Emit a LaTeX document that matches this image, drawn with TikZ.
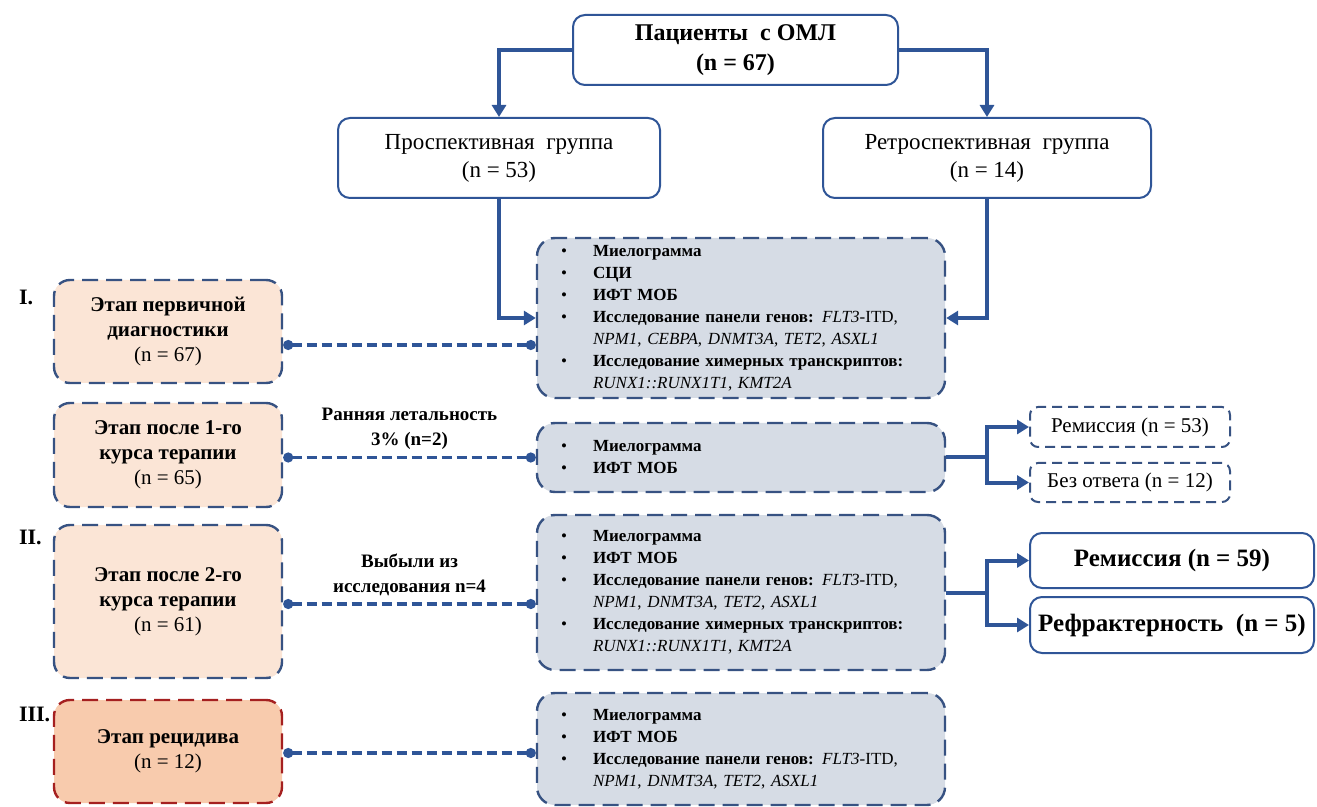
\documentclass[tikz,border=0pt]{standalone}
\usepackage{fontspec}
\setmainfont{Liberation Serif}
\usetikzlibrary{arrows.meta}
\definecolor{lineblue}{RGB}{47,85,151}
\definecolor{boxline}{RGB}{55,82,130}
\definecolor{testfill}{RGB}{214,220,229}
\definecolor{stagefill}{RGB}{251,229,214}
\definecolor{relapsefill}{RGB}{248,203,173}
\definecolor{relapseline}{RGB}{165,32,32}

\begin{document}
\begin{tikzpicture}[x=0.5pt,y=-0.5pt]
      \newcommand{\bul}[0]{\makebox[16pt][l]{\textbullet}}
      \newcommand{\cont}[0]{\hspace*{16pt}}
      \tikzstyle{mainbox} = [draw=lineblue,line width=1pt,rounded corners=6pt,fill=white,align=center,inner sep=0pt]
      \tikzstyle{stagebox} = [draw=boxline,line width=1.2pt,dash pattern=on 8pt off 4pt,rounded corners=8pt,fill=stagefill,align=center,minimum width=114pt,inner sep=0pt,font=\fontsize{10.5}{12.5}\selectfont]
      \tikzstyle{testbox} = [draw=boxline,line width=1.2pt,dash pattern=on 8pt off 4pt,rounded corners=9pt,fill=testfill,align=left,text width=180pt,inner xsep=12pt,inner ysep=0pt,font=\fontsize{8.5}{11}\selectfont]
      \tikzstyle{outbox} = [draw=boxline,line width=1pt,dash pattern=on 5pt off 3pt,rounded corners=4pt,minimum width=100pt,inner sep=0pt,font=\fontsize{10.5}{12}\selectfont]
      \tikzstyle{resbox} = [mainbox,minimum width=142pt,font=\bfseries\fontsize{12.5}{15}\selectfont]
      \tikzstyle{numlabel} = [anchor=west,font=\bfseries\fontsize{11}{13}\selectfont]
      \tikzstyle{droplabel} = [above,align=center,font=\bfseries\fontsize{9.5}{12.5}\selectfont]
      \tikzstyle{arr} = [draw=lineblue,line width=2pt,-{Triangle[length=6pt,width=7pt]}]
      \tikzstyle{conn} = [draw=lineblue,line width=1.7pt,dash pattern=on 5pt off 2.5pt,{Circle[length=5pt]}-{Circle[length=5pt]}]

      \useasboundingbox (0,0) rectangle (1317,807);

      \node[mainbox,minimum width=162.5pt,minimum height=35pt,font=\bfseries\fontsize{12}{15}\selectfont] (patients) at (735.5,50) {Пациенты\ \ с ОМЛ\\(n = 67)};
      \node[mainbox,minimum width=161pt,minimum height=40pt,font=\fontsize{11.5}{14}\selectfont] (prosp) at (499,158) {Проспективная\ \ группа\\(n = 53)};
      \node[mainbox,minimum width=164pt,minimum height=40pt,font=\fontsize{11.5}{14}\selectfont] (retro) at (987,158) {Ретроспективная\ \ группа\\(n = 14)};

      \node[testbox,minimum height=80pt] (tests1) at (741,318) {\bul\textbf{Миелограмма}\\ \bul\textbf{СЦИ}\\ \bul\textbf{ИФТ МОБ}\\ \bul\mbox{\textbf{Исследование панели генов:} \textit{FLT3}-ITD,}\\ \cont\textit{NPM1}, \textit{CEBPA}, \textit{DNMT3A}, \textit{TET2}, \textit{ASXL1}\\ \bul\mbox{\textbf{Исследование химерных транскриптов:}}\\ \cont\textit{RUNX1::RUNX1T1}, \textit{KMT2A}};
      \node[testbox,minimum height=34.5pt] (tests2) at (741,457.5) {\bul\textbf{Миелограмма}\\ \bul\textbf{ИФТ МОБ}};
      \node[testbox,minimum height=77.5pt] (tests3) at (741,592.5) {\bul\textbf{Миелограмма}\\ \bul\textbf{ИФТ МОБ}\\ \bul\mbox{\textbf{Исследование панели генов:} \textit{FLT3}-ITD,}\\ \cont\textit{NPM1}, \textit{DNMT3A}, \textit{TET2}, \textit{ASXL1}\\ \bul\mbox{\textbf{Исследование химерных транскриптов:}}\\ \cont\textit{RUNX1::RUNX1T1}, \textit{KMT2A}};
      \node[testbox,minimum height=56pt] (tests4) at (741,749) {\bul\textbf{Миелограмма}\\ \bul\textbf{ИФТ МОБ}\\ \bul\mbox{\textbf{Исследование панели генов:} \textit{FLT3}-ITD,}\\ \cont\textit{NPM1}, \textit{DNMT3A}, \textit{TET2}, \textit{ASXL1}};

      \node[stagebox,minimum height=51.5pt] (stage1) at (168,331.5) {\textbf{Этап первичной}\\\textbf{диагностики}\\(n = 67)};
      \node[stagebox,minimum height=52pt] (stage2) at (168,455) {\textbf{Этап после 1-го}\\\textbf{курса терапии}\\(n = 65)};
      \node[stagebox,minimum height=76.5pt] (stage3) at (168,601.5) {\textbf{Этап после 2-го}\\\textbf{курса терапии}\\(n = 61)};
      \node[stagebox,draw=relapseline,fill=relapsefill,minimum height=51.5pt] (stage4) at (168,751.5) {\textbf{Этап рецидива}\\(n = 12)};

      \node[numlabel] (num1) at (12,297) {I.};
      \node[numlabel] (num2) at (12,537) {II.};
      \node[numlabel] (num3) at (12,714) {III.};

      \node[outbox,minimum height=20pt] (remis1) at (1130,427) {Ремиссия (n = 53)};
      \node[outbox,minimum height=19.5pt] (noresp) at (1130,482.5) {Без ответа (n = 12)};
      \node[resbox,minimum height=27.5pt] (remis2) at (1172,560.5) {Ремиссия (n = 59)};
      \node[resbox,minimum height=28pt] (refract) at (1172,625) {Рефрактерность\ \ (n = 5)};

      \draw[arr] (patients.west) -| (prosp.north);
      \draw[arr] (patients.east) -| (retro.north);
      \draw[arr] (prosp.south) |- (tests1.west);
      \draw[arr] (retro.south) |- (tests1.east);

      \coordinate (c1) at (0,345);
      \coordinate (c2) at (0,457.5);
      \coordinate (c3) at (0,604);
      \coordinate (c4) at (0,753);
      \draw[conn] (stage1.east |- c1) -- (tests1.west |- c1);
      \draw[conn] (stage2.east |- c2) -- node[droplabel] {Ранняя летальность\\3\% (n=2)} (tests2.west |- c2);
      \draw[conn] (stage3.east |- c3) -- node[droplabel] {Выбыли из\\исследования n=4} (tests3.west |- c3);
      \draw[conn] (stage4.east |- c4) -- (tests4.west |- c4);

      \coordinate (fork1) at (987,457.5);
      \coordinate (fork2) at (987,592.5);
      \draw[arr] (tests2.east) -- (fork1) |- (remis1.west);
      \draw[arr] (tests2.east) -- (fork1) |- (noresp.west);
      \draw[arr] (tests3.east) -- (fork2) |- (remis2.west);
      \draw[arr] (tests3.east) -- (fork2) |- (refract.west);
    \end{tikzpicture}
\end{document}
